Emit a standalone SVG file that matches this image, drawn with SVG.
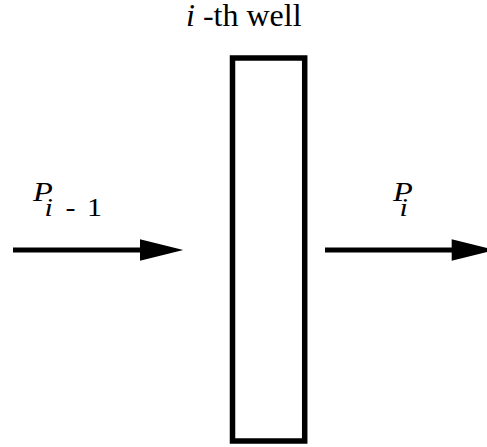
<svg xmlns="http://www.w3.org/2000/svg" width="487" height="447" viewBox="0 0 487 447">
<style>
text{font-family:"Liberation Serif","Times New Roman",serif;fill:#000}
.it{font-style:italic}
.big{font-size:27px}
.line{stroke:#000;stroke-width:5;fill:none}
.head{fill:#000;stroke:none}
</style>
<rect width="487" height="447" fill="#fff"/>
<g id="well">
<rect x="232.5" y="58" width="72.2" height="383" fill="#fff" stroke="#000" stroke-width="5.5"/>
<text x="186" y="25.5" font-size="32"><tspan class="it">i</tspan> -th well</text>
</g>
<g id="label-in" transform="translate(33,0) scale(1.2,1)">
<text x="0" font-size="25"><tspan class="it big" y="201.5">P</tspan><tspan class="it" x="9.5" y="216.5">i</tspan><tspan x="27" y="216.5">-</tspan><tspan x="45" y="216.5">1</tspan></text>
</g>
<g id="label-out" transform="translate(393,0) scale(1.2,1)">
<text x="0" font-size="25"><tspan class="it big" y="201.5">P</tspan><tspan class="it" x="5.5" y="216.5">i</tspan></text>
</g>
<g id="connectors">
<line class="line" x1="13" y1="250" x2="142" y2="250"/>
<polygon class="head" points="140,239.3 183.3,250 140,260.7"/>
<line class="line" x1="325" y1="250" x2="454" y2="250"/>
<polygon class="head" points="451.7,239.3 495,250 451.7,260.7"/>
</g>
</svg>
